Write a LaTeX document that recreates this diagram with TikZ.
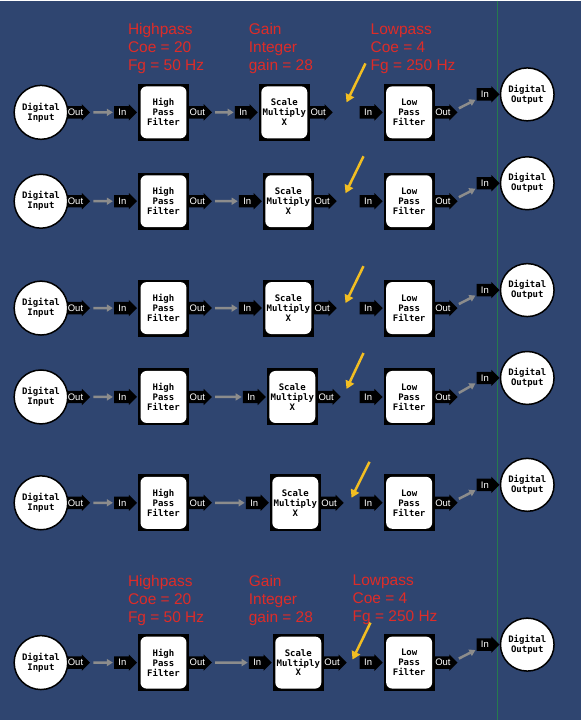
\documentclass[tikz,border=0pt]{standalone}
\usepackage{fontspec}
\setmainfont{Liberation Sans}
\newfontfamily\blockfont{DejaVu Sans Mono}
\usetikzlibrary{arrows.meta}
\usetikzlibrary{shapes.arrows}
\usetikzlibrary{shapes.geometric}

\definecolor{bgblue}{RGB}{47,69,112}
\definecolor{notered}{RGB}{222,44,40}
\definecolor{hintyellow}{RGB}{242,190,34}
\definecolor{linkgray}{RGB}{140,140,140}
\definecolor{gridgreen}{RGB}{38,122,78}

\tikzset{
  port/.style={single arrow, single arrow head extend=2pt, single arrow head indent=0pt,
    fill=black, text=white, font=\fontsize{9.5}{9.5}\selectfont, inner xsep=0.5pt, inner ysep=2.75pt,
    text height=6.5pt, text depth=0pt, minimum height=23pt, anchor=west},
  filterbox/.style={fill=black, minimum width=51pt, minimum height=57pt, inner sep=0pt, anchor=west,
    align=center, font=\blockfont\bfseries\fontsize{9}{10}\selectfont,
    path picture={\fill[white, rounded corners=6pt]
      ([shift={(2.5pt,2.5pt)}]path picture bounding box.south west) rectangle
      ([shift={(-2.5pt,-2.5pt)}]path picture bounding box.north east);}},
  endpoint/.style={ellipse, draw=black, line width=1.5pt, fill=white, inner sep=0pt,
    align=center, font=\blockfont\bfseries\fontsize{9}{10}\selectfont},
  link/.style={draw=linkgray, line width=2.5pt, -{Triangle[length=6pt,width=7pt]}, shorten <=3pt, shorten >=1pt},
  hint/.style={draw=hintyellow, line width=2.5pt, -{Triangle[length=8pt,width=9pt]}},
  note/.style={text=notered, font=\fontsize{15.5}{18}\selectfont, align=left, anchor=north west, inner sep=0pt}
}

\begin{document}
\begin{tikzpicture}[x=1pt, y=-1pt]
        \fill[bgblue] (0, 0) rectangle (582, 720);
        \draw[gridgreen, line width=1pt] (498, 0) -- (498, 720);

        % parameter notes
        \node[note] (hpnote1) at (128, 23) {Highpass\\Coe = 20\\Fg = 50 Hz};
        \node[note] (gainnote1) at (249, 23) {Gain\\Integer\\gain = 28};
        \node[note] (lpnote1) at (371, 23) {Lowpass\\Coe = 4\\Fg = 250 Hz};
        \node[note] (hpnote6) at (128, 575) {Highpass\\Coe = 20\\Fg = 50 Hz};
        \node[note] (gainnote6) at (249, 575) {Gain\\Integer\\gain = 28};
        \node[note] (lpnote6) at (353, 575) {Lowpass\\Coe = 4\\Fg = 250 Hz};

        % one chain per row
        \foreach \r/\y/\s/\ax/\ay/\bx/\by/\oy in {1/112/235/366/63/347/102/94, 2/201/239/364/156/346/193/183,
            3/308/239/364/266/346/303/290, 4/397/243/364/353/347/389/378,
            5/503/246/370/462/352/498/485, 6/663/249/371/623/353/660/645} {
            \node[endpoint, minimum width=50pt, minimum height=54pt] (din\r) at (41, \y) {Digital\\Input};
            \node[port] (dinout\r) at (67, \y) {Out};
            \node[port] (hpin\r) at (114, \y) {In};
            \node[filterbox] (hp\r) at (138, \y) {High\\Pass\\Filter};
            \node[port] (hpout\r) at (189, \y) {Out};
            \node[port] (scin\r) at (\s, \y) {In};
            \node[filterbox] (sc\r) at (\s + 24, \y) {Scale\\Multiply\\X};
            \node[port] (scout\r) at (\s + 75, \y) {Out};
            \node[port] (lpin\r) at (360, \y) {In};
            \node[filterbox] (lp\r) at (384, \y) {Low\\Pass\\Filter};
            \node[port] (lpout\r) at (435, \y) {Out};
            \node[port] (doutin\r) at (477, \oy) {In};
            \node[endpoint, minimum width=52pt, minimum height=53pt] (dout\r) at (528, \oy) {Digital\\Output};
            \draw[link] (dinout\r.east) -- (hpin\r.west);
            \draw[link] (hpout\r.east) -- (scin\r.west);
            \draw[link, shorten <=0pt] ([shift={(1pt,4pt)}]lpout\r.east) -- ([shift={(0pt,-5pt)}]doutin\r.west);
            \coordinate (htail\r) at (\ax, \ay);
            \coordinate (hhead\r) at (\bx, \by);
            \draw[hint] (htail\r) -- (hhead\r);
        }
\end{tikzpicture}
\end{document}
